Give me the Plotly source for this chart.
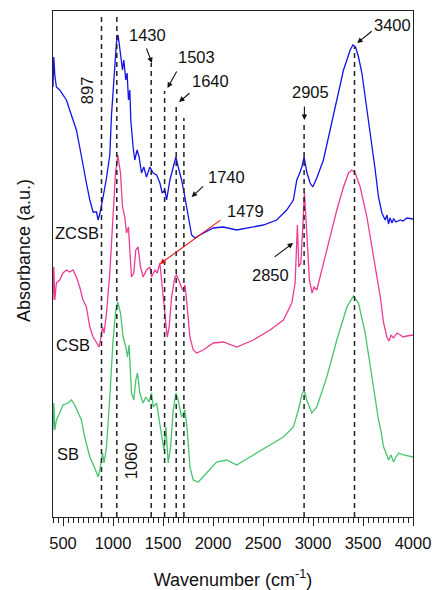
import plotly.graph_objects as go

# ---------------- data ----------------
zcsb_wn = [400, 408, 418, 434, 467, 500, 534, 567, 600, 634, 667, 700, 734, 768, 801, 835, 851, 868, 885, 901,
           935, 968, 985, 1001, 1018, 1035, 1051, 1075, 1095, 1108, 1128, 1141, 1155, 1168, 1178, 1201, 1218, 1241,
           1261, 1285, 1308, 1335, 1369, 1402, 1436, 1469, 1492, 1519, 1536, 1569, 1602, 1629, 1652, 1686, 1719,
           1752, 1786, 1819, 1869, 2003, 2103, 2237, 2337, 2503, 2637, 2737, 2804, 2838, 2871, 2891, 2911, 2938,
           2971, 2998, 3038, 3104, 3171, 3221, 3272, 3305, 3339, 3372, 3399, 3425, 3455, 3489, 3522, 3555, 3589,
           3622, 3655, 3689, 3722, 3740, 3755, 3770, 3790, 3805, 3830, 3873, 3900, 3940, 4000]
zcsb_ab = [4.30, 4.60, 4.42, 4.30, 4.27, 4.22, 4.17, 4.07, 3.97, 3.87, 3.70, 3.54, 3.34, 3.17, 3.05, 3.05, 2.97, 3.03,
           3.14, 3.20, 3.39, 3.62, 4.02, 4.27, 4.47, 4.75, 4.82, 4.64, 4.47, 4.57, 4.37, 4.44, 4.17, 4.27, 3.97, 3.70,
           3.57, 3.67, 3.60, 3.44, 3.50, 3.40, 3.50, 3.44, 3.42, 3.34, 3.24, 3.27, 3.17, 3.37, 3.50, 3.60, 3.50, 3.37,
           3.20, 3.00, 2.82, 2.79, 2.82, 2.89, 2.90, 2.87, 2.89, 2.92, 2.97, 3.07, 3.17, 3.37, 3.45, 3.51, 3.60, 3.45,
           3.34, 3.30, 3.39, 3.57, 3.87, 4.10, 4.34, 4.47, 4.57, 4.67, 4.72, 4.70, 4.60, 4.44, 4.20, 3.97, 3.70, 3.47,
           3.20, 3.04, 2.97, 3.02, 2.93, 2.99, 2.94, 2.98, 2.95, 2.97, 2.96, 2.99, 2.98]

csb_wn = [400, 408, 418, 434, 467, 500, 534, 567, 600, 634, 667, 700, 734, 768, 801, 835, 861, 875, 895, 911, 935,
          968, 1001, 1025, 1048, 1075, 1095, 1118, 1135, 1155, 1168, 1185, 1208, 1228, 1251, 1275, 1301, 1335, 1369,
          1385, 1419, 1442, 1469, 1486, 1502, 1519, 1542, 1562, 1586, 1619, 1636, 1669, 1696, 1709, 1719, 1736,
          1769, 1802, 1836, 1903, 2003, 2103, 2237, 2403, 2571, 2704, 2788, 2821, 2831, 2844, 2858, 2878, 2898,
          2914, 2938, 2964, 2991, 3011, 3038, 3104, 3171, 3238, 3305, 3355, 3389, 3422, 3472, 3539, 3606, 3673,
          3706, 3739, 3760, 3780, 3805, 3840, 3873, 3900, 3940, 4000]
csb_ab = [2.17, 2.50, 2.17, 2.34, 2.37, 2.44, 2.47, 2.45, 2.47, 2.40, 2.30, 2.17, 2.10, 1.90, 1.80, 1.74, 1.70, 1.77,
          1.90, 1.84, 2.04, 2.44, 3.10, 3.44, 3.62, 3.44, 3.10, 3.00, 2.84, 2.90, 2.67, 2.40, 2.44, 2.67, 2.70, 2.50,
          2.40, 2.47, 2.50, 2.40, 2.47, 2.44, 2.54, 2.37, 2.17, 2.00, 1.80, 1.90, 2.20, 2.40, 2.42, 2.34, 2.27, 2.29,
          2.32, 2.17, 1.80, 1.67, 1.64, 1.67, 1.74, 1.75, 1.70, 1.77, 1.87, 1.97, 2.14, 2.34, 2.54, 2.92, 2.50, 2.54,
          2.90, 3.25, 2.84, 2.37, 2.24, 2.30, 2.27, 2.54, 2.80, 3.07, 3.30, 3.44, 3.47, 3.44, 3.30, 3.00, 2.60, 2.20,
          1.94, 1.80, 1.76, 1.82, 1.79, 1.84, 1.82, 1.80, 1.81, 1.82]

sb_wn = [400, 408, 418, 434, 467, 500, 550, 584, 617, 650, 684, 717, 768, 818, 851, 868, 895, 911, 935, 968, 1001,
         1028, 1048, 1075, 1101, 1128, 1145, 1161, 1185, 1208, 1228, 1245, 1268, 1301, 1328, 1361, 1385, 1402, 1436,
         1462, 1486, 1509, 1529, 1552, 1576, 1602, 1629, 1652, 1686, 1719, 1742, 1769, 1802, 1853, 1936, 2036, 2137,
         2237, 2370, 2537, 2704, 2804, 2854, 2888, 2911, 2938, 2988, 3038, 3138, 3238, 3339, 3405, 3455, 3522, 3589,
         3655, 3680, 3706, 3730, 3756, 3780, 3805, 3830, 3856, 3906, 4000]
sb_ab = [0.87, 1.14, 0.87, 0.97, 1.04, 1.12, 1.14, 1.17, 1.12, 1.04, 0.97, 0.80, 0.60, 0.49, 0.40, 0.47, 0.64, 0.54,
         0.70, 1.20, 1.77, 2.07, 2.15, 2.04, 1.80, 1.70, 1.60, 1.72, 1.24, 1.17, 1.37, 1.44, 1.24, 1.14, 1.20, 1.15,
         1.24, 1.10, 1.14, 0.97, 0.80, 0.67, 0.90, 0.54, 0.70, 1.07, 1.24, 1.17, 1.00, 1.07, 0.87, 0.50, 0.37, 0.35,
         0.44, 0.55, 0.57, 0.52, 0.60, 0.70, 0.80, 0.90, 1.07, 1.22, 1.27, 1.17, 1.04, 1.10, 1.40, 1.77, 2.10, 2.21,
         2.14, 1.84, 1.40, 0.97, 0.86, 0.70, 0.64, 0.57, 0.62, 0.55, 0.60, 0.64, 0.62, 0.60]

series_names = ["ZCSB", "CSB", "SB"]
series_colors = ["#1414e6", "#ec3c96", "#46c46e"]

# dashed reference lines (wavenumber, top of line in absorbance units)
line_wn = [885, 1038, 1382, 1516, 1632, 1709, 2911, 3415]
line_top = [5.03, 5.03, 4.54, 4.26, 4.13, 3.99, 3.95, 4.70]

xticks = [500, 1000, 1500, 2000, 2500, 3000, 3500, 4000]

FONT = "Liberation Sans, Arial, sans-serif"

fig = go.Figure()
for wn, ab, name, col in zip([zcsb_wn, csb_wn, sb_wn], [zcsb_ab, csb_ab, sb_ab], series_names, series_colors):
    fig.add_trace(go.Scatter(x=wn, y=ab, mode="lines", name=name,
                             line=dict(color=col, width=1.3), showlegend=False))

for xv, yt in zip(line_wn, line_top):
    fig.add_shape(type="line", x0=xv, x1=xv, y0=0, y1=yt, xref="x", yref="y",
                  line=dict(color="#222222", width=1.5, dash="5px,4px"))

ann = []
# rotated labels
ann.append(dict(x=742, y=4.27, text="897", showarrow=False, textangle=-90))
ann.append(dict(x=1183, y=0.56, text="1060", showarrow=False, textangle=-90))
# series labels
ann.append(dict(x=642, y=2.84, text="ZCSB", showarrow=False))
ann.append(dict(x=602, y=1.72, text="CSB", showarrow=False))
ann.append(dict(x=547, y=0.63, text="SB", showarrow=False))
# arrowed labels: (text, head x, head y, ax, ay, text x, text y, color)
arrowed = [
    ("1430", 1389, 4.54, -6, -16, 1349, 4.82, "#111111"),
    ("1503", 1545, 4.29, 10, -18, 1839, 4.60, "#111111"),
    ("1640", 1660, 4.15, 12, -10, 1970, 4.36, "#111111"),
    ("1740", 1786, 3.20, 13, -12, 2137, 3.40, "#111111"),
    ("1479", 1469, 2.53, 62, -45, 2320, 3.06, "#e01010"),
    ("2850", 2801, 2.74, -20, 15, 2571, 2.42, "#111111"),
    ("2905", 2914, 3.97, 0, -15, 2978, 4.25, "#111111"),
    ("3400", 3442, 4.74, 16, -13, 3790, 4.92, "#111111"),
]
for t, hx, hy, axp, ayp, tx, ty, col in arrowed:
    ann.append(dict(x=hx, y=hy, ax=axp, ay=ayp, text="", showarrow=True, arrowhead=2,
                    arrowsize=1, arrowwidth=1.1, arrowcolor=col, standoff=0))
    ann.append(dict(x=tx, y=ty, text=t, showarrow=False))

for a in ann:
    a.setdefault("xref", "x")
    a.setdefault("yref", "y")
    a["font"] = dict(family=FONT, size=16.5, color="#111111")

# y axis title
ann.append(dict(xref="paper", yref="paper", x=-0.08, y=0.526, yanchor="middle", xanchor="center",
                text="Absorbance (a.u.)", textangle=-90, showarrow=False,
                font=dict(family=FONT, size=18, color="#111111")))

fig.update_layout(
    width=434, height=590,
    margin=dict(l=53, r=21, t=11, b=73, autoexpand=False),
    paper_bgcolor="white", plot_bgcolor="white",
    annotations=ann,
    font=dict(family=FONT, size=16, color="#111111"),
)
fig.update_xaxes(range=[400, 4000], tickvals=xticks, ticks="outside", ticklen=8, tickwidth=1,
                 tickcolor="#222222", showline=True, linecolor="#222222", linewidth=1.2, mirror=True,
                 showgrid=False, zeroline=False, tickfont=dict(family=FONT, size=16.5, color="#111111"),
                 ticklabelstandoff=3, automargin=False,
                 title=dict(text="Wavenumber (cm<sup>-1</sup>)", standoff=22,
                            font=dict(family=FONT, size=18, color="#111111")),
                 minor=dict(dtick=50, tick0=400, ticks="outside", ticklen=5, tickcolor="#222222", showgrid=False))
fig.update_yaxes(range=[0, 5.06], showticklabels=False, ticks="", showline=True, linecolor="#222222",
                 linewidth=1.2, mirror=True, showgrid=False, zeroline=False, automargin=False)

fig.write_html("out.html")
